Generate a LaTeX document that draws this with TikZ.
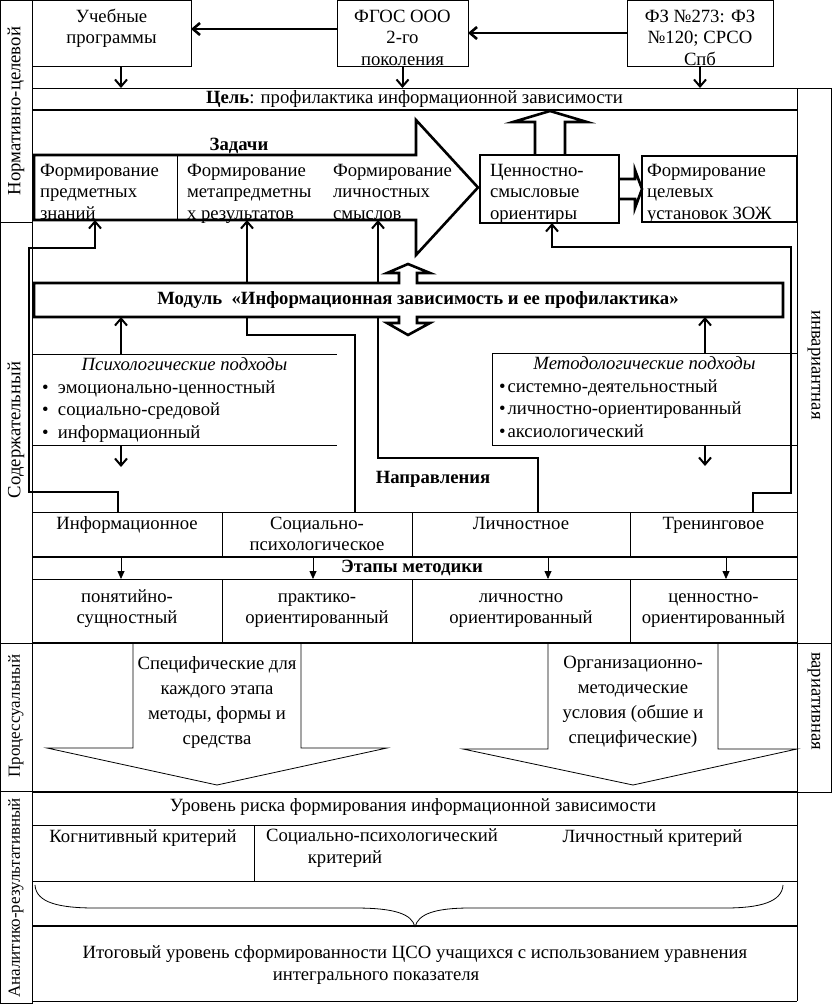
\documentclass[tikz,border=0pt]{standalone}
\usepackage{fontspec}
\setmainfont{Liberation Serif}
\usetikzlibrary{arrows.meta}

% text block of fixed size, text at the top
\newcommand{\celltext}[4]{\parbox[c][#2pt][t]{#1pt}{\vspace*{#3pt}#4}}
\newcommand{\psybul}{\hspace*{10pt}\makebox[16pt][l]{\textbullet}}
\newcommand{\metbul}{\hspace*{7pt}\textbullet\hspace{2pt}}

\tikzset{
  every node/.style={font=\fontsize{18.7}{21.5}\selectfont, inner sep=0pt, outer sep=0pt},
  thinline/.style={line width=0.8pt},
  midline/.style={line width=1.8pt},
  heavy/.style={line width=2.6pt},
  cell/.style={draw, thinline},
  boxframe/.style={draw, heavy},
  arrow/.style={line width=2pt, -{Straight Barb[length=7pt,width=12pt]}},
  link/.style={line width=2pt},
  flow/.style={thinline, -{Triangle[length=8pt,width=7pt]}},
  hollow/.style={heavy, line join=miter},
  sidefont/.style={font=\fontsize{17}{20}\selectfont}
}

\begin{document}
\begin{tikzpicture}[x=1pt, y=-1pt]
\useasboundingbox (0,0) rectangle (832,1004);

% frame of the columns
\draw[thinline] (0,0) rectangle (32,1003);
\draw[thinline] (0,222) -- (32,222) (0,643) -- (32,643) (0,791) -- (32,791);
\draw[thinline] (797,88) rectangle (831,792);
\draw[thinline] (797,643) -- (831,643);
\draw[thinline] (797,792) -- (797,1001);

\node[rotate=90] (norm) at (16,111) {Нормативно-целевой};
\node[rotate=90] (sod) at (16,430) {Содержательный};
\node[rotate=90, sidefont] (proc) at (16,716) {Процессуальный};
\node[rotate=90, sidefont] (anal) at (16,898) {Аналитико-результативный};
\node[rotate=-90] (inv) at (814,365) {инвариантная};
\node[rotate=-90] (var) at (814,701) {вариативная};

% documents
\node[cell] (ucheb) at (111.5,33) {\celltext{159}{66}{7}{\centering\strut Учебные\\программы}};
\node[cell] (fgos) at (402.5,33) {\celltext{131}{66}{7}{\centering\strut ФГОС ООО\\2-го\\поколения}};
\node[cell] (fz) at (700,33) {\celltext{146}{66}{7}{\centering\strut ФЗ №273: ФЗ\\№120; СРСО\\Спб}};

\node[cell, minimum width=765, minimum height=22] (goal) at (414.5,99)
  {\textbf{Цель}: профилактика информационной зависимости};
\draw[midline] (goal.south west) -- (goal.south east);

\coordinate (col1) at (121,0);
\draw[arrow, line width=2.6pt] ([yshift=4pt]fgos.west) -- ([yshift=4pt]ucheb.east);
\draw[arrow, line width=2.6pt] (fz.west) -- (fgos.east);
\draw[arrow] (ucheb.south -| col1) -- (goal.north -| col1);
\draw[arrow] (fgos.south) -- (fgos.south |- goal.north);
\draw[arrow] (fz.south) -- (fz.south |- goal.north);

% tasks
\node (zadachi) at (239,146) {\bfseries Задачи};
\draw[hollow] (34,155) -- (416,155) -- (416,120) -- (478,187.5) -- (416,255) -- (416,220) -- (34,220) -- cycle;
\node (task1) at (105.5,187.5) {\celltext{143}{65}{6}{\raggedright\leftskip=6pt\strut Формирование\\предметных\\знаний}};
\node (task2) at (253.5,187.5) {\celltext{153}{65}{6}{\raggedright\leftskip=10pt\strut Формирование\\метапредметны\\х результатов}};
\node (task3) at (404,187.5) {\celltext{148}{65}{6}{\raggedright\leftskip=3pt\strut Формирование\\личностных\\смыслов}};
\draw[thinline] (task1.north east) -- (task1.south east);

\node[boxframe] (cso) at (549.5,189) {\celltext{139}{68}{6}{\raggedright\leftskip=10pt\strut Ценностно-\\смысловые\\ориентиры}};
\node[boxframe] (zozh) at (719.5,189) {\celltext{155}{66}{5}{\raggedright\leftskip=5pt\strut Формирование\\целевых\\установок ЗОЖ}};
\draw[hollow] (619,179) -- (635,179) -- (635,170) -- (642,189) -- (635,208) -- (635,199) -- (619,199);
\draw[hollow] (535,155) -- (535,122) -- (513,122) -- (550,111) -- (587,122) -- (565,122) -- (565,155);

% module
\draw[hollow] (34,283) -- (399,283) -- (399,273) -- (387,273) -- (408,264) -- (430,273) -- (417,273) -- (417,283)
  -- (783,283) -- (783,317) -- (417,317) -- (417,323) -- (430,323) -- (408,335) -- (387,323) -- (399,323)
  -- (399,317) -- (34,317) -- cycle;
\node[minimum width=749, minimum height=34] (module) at (408.5,300)
  {\bfseries\hspace*{19pt}Модуль\ \ «Информационная зависимость и ее профилактика»};

% approaches
\node (psych) at (184.5,399.5) {\celltext{305}{91}{1}{\fontsize{18.7}{22.5}\selectfont
  \centering\strut\textit{Психологические подходы}\par
  \raggedright\psybul эмоционально-ценностный\\\psybul социально-средовой\\\psybul информационный}};
\draw[thinline] (psych.north west) -- (psych.north east) (psych.south west) -- (psych.south east);
\node[cell] (method) at (644.5,399) {\celltext{305}{92}{1}{\fontsize{18.7}{22.5}\selectfont
  \centering\strut\textit{Методологические подходы}\par
  \raggedright\metbul системно-деятельностный\\\metbul личностно-ориентированный\\\metbul аксиологический}};

\coordinate (colm) at (705,0);
\coordinate (pd) at (121,467);
\coordinate (md) at (705,466);
\draw[arrow] (psych.north -| col1) -- (module.south -| col1);
\draw[arrow] (method.north -| colm) -- (module.south -| colm);
\draw[arrow] (psych.south -| col1) -- (pd);
\draw[arrow] (method.south -| colm) -- (md);

% directions
\node (napr) at (433,479) {\bfseries Направления};
\node[cell] (dir1) at (127,534.5) {\celltext{190}{45}{2}{\centering\strut Информационное}};
\node[cell] (dir2) at (317,534.5) {\celltext{190}{45}{2}{\centering\strut Социально-\\психологическое}};
\node[cell] (dir3) at (521,534.5) {\celltext{218}{45}{2}{\centering\strut Личностное}};
\node[cell] (dir4) at (713.5,534.5) {\celltext{167}{45}{2}{\centering\strut Тренинговое}};

\coordinate (l1) at (29,492);
\coordinate (l2) at (95,248);
\coordinate (s1) at (247,335);
\coordinate (p1) at (378,458);
\coordinate (r1) at (791,493);
\coordinate (r2) at (552,247);
\draw[arrow] ([xshift=-9pt]dir1.north) |- (l1) |- (l2) -- (l2 |- task1.south);
\draw[link] ([xshift=38pt]dir2.north) |- (s1) -- (s1 |- module.south);
\draw[arrow] (module.north -| s1) -- (task2.south -| s1);
\draw[link] ([xshift=17pt]dir3.north) |- (p1) -- (p1 |- module.south);
\draw[arrow] (module.north -| p1) -- (task3.south -| p1);
\draw[arrow] ([xshift=39.5pt]dir4.north) |- (r1) |- (r2) -- (r2 |- cso.south);

% stages
\node (etapy) at (412,568) {\bfseries Этапы методики};
\node[cell] (st1) at (127,611) {\celltext{190}{64}{8}{\centering\strut понятийно-\\сущностный}};
\node[cell] (st2) at (317,611) {\celltext{190}{64}{8}{\centering\strut практико-\\ориентированный}};
\node[cell] (st3) at (521,611) {\celltext{218}{64}{8}{\centering\strut личностно\\ориентированный}};
\node[cell] (st4) at (713.5,611) {\celltext{167}{64}{8}{\centering\strut ценностно-\\ориентированный}};
\draw[heavy] (dir1.south west) -- (dir4.south east);
\draw[heavy] (st1.south west) -- (st4.south east);
\foreach \i/\s in {1/-6,2/-4,3/27,4/12.5}
  \draw[flow] ([xshift=\s pt]dir\i.south) -- ([xshift=\s pt]st\i.north);

% process
\draw[thinline] (133,643) -- (133,748) -- (47,748) -- (217,785) -- (387,748) -- (301,748) -- (301,643);
\draw[thinline] (548,643) -- (548,749) -- (463,749) -- (633,785) -- (797,749) -- (718,749) -- (718,643);
\node[align=center, font=\fontsize{18.7}{25}\selectfont] (spec) at (217,702)
  {Специфические для\\каждого этапа\\методы, формы и\\средства};
\node[align=center, font=\fontsize{18.7}{25}\selectfont] (org) at (633,702)
  {Организационно-\\методические\\условия (обшие и\\специфические)};

% results
\draw[heavy] (32,792) -- (797,792);
\draw[thinline] (32,825) -- (797,825) (32,881) -- (797,881) (254,825) -- (254,881);
\draw[heavy] (32,926) -- (797,926);
\draw[thinline] (32,1001) -- (797,1001);
\node (risk) at (413,807) {Уровень риска формирования информационной зависимости};
\node (kog) at (143,838) {Когнитивный критерий};
\node[align=center] (soc) at (382,848) {Социально-психологический\\критерий\rule{74pt}{0pt}};
\node (lich) at (652.5,838) {Личностный критерий};
\draw[thinline] (35,885) .. controls (36,903) and (60,908) .. (95,908) -- (355,908)
  .. controls (395,908) and (412,914) .. (415,927);
\draw[thinline] (783,885) .. controls (782,902) and (760,908) .. (725,908) -- (470,908)
  .. controls (435,908) and (418,914) .. (415,927);
\node[align=center] (final) at (415,965)
  {Итоговый уровень сформированности ЦСО учащихся с использованием уравнения\\интегрального показателя\rule{78pt}{0pt}};
\end{tikzpicture}
\end{document}
